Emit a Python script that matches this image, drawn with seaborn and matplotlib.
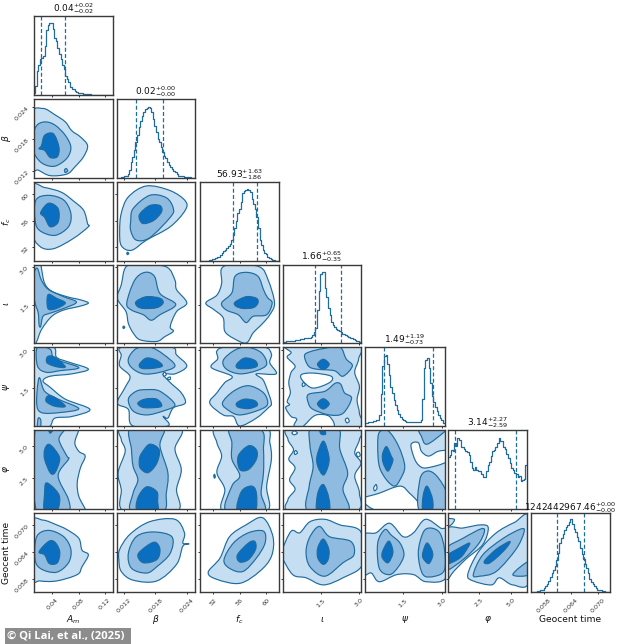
import numpy as np
import matplotlib
matplotlib.use("Agg")
import matplotlib.pyplot as plt
from matplotlib.path import Path
from matplotlib.patches import PathPatch
import seaborn as sns

NAMES = [r"$A_m$", r"$\beta$", r"$f_c$", r"$\iota$", r"$\psi$", r"$\varphi$", "Geocent time"]
RANGES = [(0.012, 0.132), (0.0106, 0.0256), (50.0, 61.8), (0.0, 3.08), (0.03, 3.11), (0.0, 6.28), (0.0551, 0.0727)]
TICKS = [[0.04, 0.08, 0.12], [0.012, 0.018, 0.024], [52, 56, 60], [1.5, 3.0], [1.5, 3.0], [2.5, 5.0], [0.058, 0.064, 0.070]]
TICKLABELS = [["0.04", "0.08", "0.12"], ["0.012", "0.018", "0.024"], ["52", "56", "60"], ["1.5", "3.0"], ["1.5", "3.0"], ["2.5", "5.0"], ["0.058", "0.064", "0.070"]]
TITLES = [r"$0.04_{-0.02}^{+0.02}$", r"$0.02_{-0.00}^{+0.00}$", r"$56.93_{-1.86}^{+1.63}$", r"$1.66_{-0.35}^{+0.65}$",
          r"$1.49_{-0.73}^{+1.19}$", r"$3.14_{-2.59}^{+2.27}$", r"$1242442967.46_{-0.00}^{+0.00}$"]

# quantile positions and histogram heights, both in % of each panel
QUANTILES = [(9, 39), (25, 59), (42.6, 73.4), (41.5, 74), (23.7, 85), (8.5, 86), (33.5, 66.5)]
HIST_AM = [2,12,30,38,46,47,50,62,82,88,91,91,83,72,68,60,52,45,38,33,24,20,16,10,8,7,5,4,3,2,2,1,1,1,1,1,0.5,0.5,0.5,0.5,0.5,0.5,0,0,0,0,0,0,0,0]
HIST_BETA = [0,0,0,1,1,2,3,5,10,20,27,36,45,55,65,72,78,83,87,88,90,89,84,75,66,58,50,45,39,33,28,25,20,17,14,11,9,7,5,3,3,2,2,1,1,1,1,0,0,0]
HIST_FC = [0,0,0,0,0,0,1,1,2,2,3,4,5,7,9,12,14,16,19,21,26,33,42,50,60,66,75,86,89,90,91,90,87,78,72,66,56,42,26,20,14,10,8,5,3,2,1,1,0,0]
HIST_IOTA = [1,1,2,2,3,3,3,3,4,4,4,5,5,5,6,6,7,7,8,10,14,19,42,66,88,91,91,70,58,44,36,27,23,21,18,16,15,14,12,11,10,9,8,7,6,5,4,3,2,1]
HIST_PSI = [4,4,5,5,5,6,6,7,8,14,40,76,88,90,78,65,50,42,33,26,20,15,12,9,8,6,5,5,5,5,5,5,5,5,5,8,34,74,84,86,74,55,38,30,24,19,14,10,7,4]
HIST_PHI = [66,68,75,74,83,80,90,87,78,78,76,74,72,68,60,52,50,53,50,48,48,44,41,40,48,56,60,67,74,75,78,84,90,86,86,78,76,70,64,58,52,50,46,44,40,42,35,37,38,56]
HIST_TIME = [0,0,0,0,1,1,2,3,5,7,10,14,19,24,28,33,40,50,62,68,73,79,82,85,89,92,86,80,76,70,64,56,48,42,35,30,24,17,13,10,7,5,3,2,2,1,1,0,0,0]
HISTS = [HIST_AM, HIST_BETA, HIST_FC, HIST_IOTA, HIST_PSI, HIST_PHI, HIST_TIME]

# contour outlines: x, y pairs in % of each parameter's plotted range
BETA_AM = dict(outer=[[-3,80,12,88,27,80,40,71,48,60,59,52,68,41,63,27,52,14,42,5,21,3,6,10,-3,14]],
               mid=[[3,65,14,71,27,67,40,54,47,39,42,25,27,15,12,18,2,29,-2,44], [39,10,41,12,43,9,40,7]],
               inner=[[14,54,25,56,32,39,30,27,21,26,14,35,7,37,10,41]])
FC_AM = dict(outer=[[-2,94,14,93,35,87,50,76,63,64,68,47,69,43,50,28,25,15,8,18,-2,38]],
             mid=[[3,77,19,83,38,77,47,60,44,43,27,32,8,38,2,51]],
             inner=[[19,73,31,66,31,49,21,43,14,55,9,61]])
FC_BETA = dict(outer=[[6,60,15,81,38,95,68,89,87,76,87,64,68,43,38,26,19,13,6,19,4,38]],
               mid=[[18,50,21,66,42,83,63,80,72,66,68,55,42,29,25,26,18,38]],
               inner=[[30,60,42,70,55,70,57,62,47,51,34,47,29,53], [13,9,14,10.5,15.5,9,14,7.5]])
IOTA_AM = dict(outer=[[10,95,14,76,23,66,42,59,59,55,69,51,59,47,38,42,23,34,10,17,3,0,-5,-5,-5,105,8,105]],
               mid=[[5,95,10,80,19,68,38,59,54,52,38,44,21,38,12,34,9,21,7,23,6,38,2,51,-1,72,1,90]],
               inner=[[19,62,29,57,40,51,29,44,19,43,17,53]])
IOTA_BETA = dict(outer=[[12,97,30,100,63,97,74,80,76,68,89,51,76,40,68,21,72,15,61,8,51,2,30,4,21,13,15,25,12,40,1,57,6,74]],
                 mid=[[13,51,23,80,36,90,48,85,55,63,75,49,55,36,44,29,34,36,19,42]],
                 inner=[[25,53,38,59,55,57,59,51,51,45,34,44,26,47], [8,20,9,21.5,10.5,20,9,18.5]])
IOTA_FC = dict(outer=[[28,95,43,100,76,97,87,80,95,51,89,36,80,25,68,13,59,0,43,6,32,15,30,32,19,42,8,51,22,61,28,76]],
               mid=[[28,51,41,64,45,85,59,90,74,85,81,68,86,58,92,51,85,36,68,34,59,26,49,36,34,42]],
               inner=[[45,52,59,59,72,57,74,51,68,45,55,44,46,47]])
PSI_AM = dict(outer=[[25,100,29,87,44,81,69,72,48,66,21,63,12,57,21,49,40,34,71,21,48,12,27,10,21,0,10,-3,-5,-3,-5,103]],
              mid=[[5,100,21,97,27,85,57,74,33,70,16,68,5,76], [7,61,14,44,31,34,57,22,33,17,10,17,4,29], [6,10,9,8,9,0,5,0]],
              inner=[[18,88,27,87,40,75,29,75,17,80], [18,38,27,36,40,25,27,25,16,31]])
PSI_BETA = dict(outer=[[8,100,68,100,76,90,89,76,74,66,59,66,68,55,82,42,87,29,72,23,65,10,59,12,65,0,21,0,15,21,1,29,11,49,17,63,4,76,6,89]],
                holes=[[59,66,61,68,63,65,60,63], [65,61,68,62,68,59,65,59]],
                mid=[[15,85,25,98,42,100,59,91,74,76,55,68,34,66,19,74], [15,34,25,44,38,46,55,44,74,27,59,19,38,14,21,19]],
                inner=[[29,78,38,86,51,83,58,76,46,73,32,73], [27,29,36,34,51,34,57,25,42,23,32,24]])
PSI_FC = dict(outer=[[22,95,34,100,81,100,91,91,89,80,97,66,72,66,80,59,85,48,91,29,87,23,72,10,51,0,43,12,30,14,13,29,22,42,32,55,41,63,15,74,23,85]],
              mid=[[30,83,43,95,59,100,78,93,85,78,72,70,51,66,34,72], [29,29,43,44,62,51,81,42,86,27,72,19,51,14,38,19]],
              inner=[[47,78,57,86,70,83,73,76,64,73,49,73], [47,29,57,34,70,32,73,26,62,22,49,24]])
PSI_IOTA = dict(outer=[[7,103,11,93,6,87,16,76,11,68,8,55,10,42,6,31,9,27,4,23,11,12,18,9,21,-3,97,-3,98,16,95,33,98,50,92,68,97,85,94,103]],
                holes=[[24,65,39,67,62,63,60,55,39,48,26,57], [28,-3,31,4,43,14,60,12,64,-3], [25,53,27,55,29,52,26,50], [80,8,83,10,85,6,82,4]],
                mid=[[28,89,35,94,52,98,73,100,81,85,89,76,77,63,66,70,43,72,33,76], [33,40,54,44,67,54,74,53,79,42,88,35,77,16,60,14,39,21,33,29]],
                inner=[[44.5,78,52,84.5,59.5,78,52,71.5], [44.5,28,52,34.5,59.5,28,52,21.5]])
PHI_AM = dict(outer=[[57,100,52,84,57,73,65,67,59,52,55,33,57,16,65,0,65,-5,1,-5,1,105,57,105]],
              mid=[[38,103,32,88,42,67,44,63,31,42,44,12,42,-3,4,-3,3,103]],
              inner=[[19,103,21,96,26,103], [19,82,27,75,33,63,27,46,21,46,14,63,14,75], [16,33,27,25,33,14,29,-3,14,-3,14,20]])
PHI_BETA = dict(outer=[[9,103,80,103,74,76,82,50,76,25,76,-3,10,-3,6,25,2,46,11,73,6,88]],
                mid=[[18,103,59,103,55,80,65,46,63,20,59,-3,19,-3,21,20,27,37,21,54,19,75]],
                inner=[[32,71,42,82,54,75,51,58,40,46,30,52,29,63], [27,14,38,28,51,22,52,10,51,-3,27,-3]])
PHI_FC = dict(outer=[[22,103,83,103,89,84,91,63,85,29,85,-3,30,-3,32,25,22,46,28,67,22,84]],
              mid=[[39,103,78,100,81,75,81,46,78,20,81,-3,34,-3,41,29,51,42,41,63,41,84]],
              inner=[[49,67,62,80,72,75,72,63,62,50,51,50], [53,22,66,29,72,20,70,-3,48,-3], [18,42,19,44,20,41,19,39]])
PHI_IOTA = dict(outer=[[11,103,7,88,14,75,8,63,16,52,9,37,16,25,7,12,11,-3,92,-3,98,20,92,42,100,58,92,71,98,88,96,103]],
                holes=[[12,96,15,99,19,96,15,94], [15,72,17,74,19,71,16,69], [94,70,97,72,99,68,96,66]],
                mid=[[37,103,71,103,73,76,83,46,77,25,83,-3,33,-3,34,29,39,54,35,80]],
                inner=[[47,103,49,95,55,95,52,103], [52,86,59,67,58,54,52,43,45,54,44,67], [52,31,59,14,59,-3,44,-3,45,20]])
PHI_PSI = dict(outer=[[-5,-5,-5,105,105,105,105,-5]],
               holes=[[58,82,67,84,71,73,80,67,92,73,103,73,103,60,77,52,67,56,61,67], [-3,12,18,20,44,29,56,20,67,8,67,-3,18,-3], [11,27,14,31,15,26,12,23]],
               mid=[[18,97,29,99,42,80,50,54,44,37,37,29,27,37,18,54,16,80], [69,103,103,103,99,97,78,82,71,92], [69,37,78,48,90,42,103,20,103,-3,69,-3]],
               inner=[[27,79,33,67,35,61,29,48,23,58,22,69], [78,29,85,12,84,-3,73,-3,73,16]])
TIME_AM = dict(outer=[[-3,87,12,91,29,85,42,79,57,68,61,53,69,47,61,32,55,22,29,14,8,14,-3,18]],
               mid=[[4,70,19,78,38,70,47,54,44,37,29,25,10,29,2,41]],
               inner=[[19,64,27,63,33,51,30,37,20,36,14,47,7,51]])
TIME_BETA = dict(outer=[[4,54,17,73,42,89,74,92,86,75,84,62,92,61,84,58,76,35,51,14,21,15,6,26,3,41]],
                 mid=[[15,49,25,70,46,76,70,70,68,49,51,32,38,24,19,30]],
                 inner=[[27,47,38,58,49,63,55,54,51,41,34,37]])
TIME_FC = dict(outer=[[11,25,26,43,38,70,59,85,80,94,93,70,91,45,76,26,51,11,22,16]],
               mid=[[31,41,43,62,62,75,81,77,83,62,72,43,55,26,38,30]],
               inner=[[48,47,62,62,70,64,71,54,62,41,51,38]])
TIME_IOTA = dict(outer=[[-1,52,11,77,22,75,35,89,54,92,73,85,100,76,102,35,77,18,52,9,30,18,13,22,-1,45]],
                 mid=[[30,51,35,70,47,83,60,70,87,64,91,47,77,37,54,20,35,32]],
                 inner=[[45,56,52,67,59,54,58,41,52,35,45,43]])
TIME_PSI = dict(outer=[[-3,70,14,75,31,87,48,70,61,75,76,92,95,81,103,75,103,20,77,13,61,22,40,22,18,13,8,24,-3,24]],
                mid=[[16,62,25,79,33,72,44,62,49,47,42,32,31,22,18,30], [67,49,73,75,82,81,94,75,100,54,100,28,88,20,73,22]],
                inner=[[22,51,29,64,33,60,35,49,29,37,22,43], [73,51,78,62,84,53,85,45,80,36,73,43]])
TIME_PHI = dict(outer=[[-3,77,19,81,42,85,51,81,44,60,23,42,8,27,-3,18], [25,22,38,50,60,74,84,88,103,94,103,14,82,9,65,18,55,9,32,14], [-3,92,8,92,4,85,-3,83]],
                mid=[[-3,54,19,68,42,80,46,76,38,60,19,41,-3,28], [32,22,44,47,70,68,93,80,96,75,86,54,61,26,40,20], [82,22,103,39,103,22]],
                inner=[[-3,45,15,56,27,62,25,56,15,43,-3,35], [46,39,61,54,78,64,74,56,61,43,51,36]])
CONTOURS = {(1, 0): BETA_AM, (2, 0): FC_AM, (2, 1): FC_BETA, (3, 0): IOTA_AM, (3, 1): IOTA_BETA, (3, 2): IOTA_FC,
            (4, 0): PSI_AM, (4, 1): PSI_BETA, (4, 2): PSI_FC, (4, 3): PSI_IOTA, (5, 0): PHI_AM, (5, 1): PHI_BETA,
            (5, 2): PHI_FC, (5, 3): PHI_IOTA, (5, 4): PHI_PSI, (6, 0): TIME_AM, (6, 1): TIME_BETA, (6, 2): TIME_FC,
            (6, 3): TIME_IOTA, (6, 4): TIME_PSI, (6, 5): TIME_PHI}

COL_EDGES = [(33.5, 113), (116.5, 195.5), (199.5, 278.5), (282.5, 361), (365, 444.5), (448, 527), (531, 610)]
ROW_EDGES = [(16, 95), (99, 178), (182, 260.5), (264.5, 343), (347, 426), (430, 509), (513, 592)]
W, H = 634, 644
LINE = "#1f6c9f"
FILLS = dict(outer="#c6def2", holes="#ffffff", mid="#90bbe0", inner="#0a6ec1")

sns.set_theme(style="white")
plt.rcParams["font.family"] = ["DejaVu Sans"]
plt.rcParams["mathtext.fontset"] = "dejavusans"


def scale(pct, rng):
    lo, hi = rng
    return lo + np.asarray(pct, dtype=float) / 100.0 * (hi - lo)


def outline(flat, xr, yr):
    """Closed smooth path through the listed contour vertices."""
    p = np.column_stack([scale(flat[0::2], xr), scale(flat[1::2], yr)])
    n = len(p)
    verts, codes = [p[0]], [Path.MOVETO]
    for i in range(n):
        p0, p1, p2, p3 = p[i - 1], p[i], p[(i + 1) % n], p[(i + 2) % n]
        verts += [p1 + (p2 - p0) / 6.0, p2 - (p3 - p1) / 6.0, p2]
        codes += [Path.CURVE4] * 3
    return Path(verts, codes)


fig = plt.figure(figsize=(W / 100, H / 100), dpi=100, facecolor="white")

for r, (top, bottom) in enumerate(ROW_EDGES):
    for c, (left, right) in enumerate(COL_EDGES):
        if c > r:
            continue
        ax = fig.add_axes([left / W, 1 - bottom / H, (right - left) / W, (bottom - top) / H])
        ax.set_facecolor("white")
        if r == c:
            lo, hi = RANGES[c]
            edges = np.linspace(lo, hi, len(HISTS[c]) + 1)
            centers = 0.5 * (edges[:-1] + edges[1:])
            sns.histplot(x=centers, weights=HISTS[c], bins=len(HISTS[c]), binrange=(lo, hi), element="step",
                         fill=False, color=LINE, linewidth=0.9, ax=ax, legend=False)
            for q in QUANTILES[c]:
                ax.axvline(scale(q, RANGES[c]), color=LINE, lw=0.9, ls=(0, (3.2, 1.8)))
            ax.set_ylim(0, 100)
            ax.set_yticks([])
            ax.set_title(TITLES[c], fontsize=6.5, pad=1.5, color="#111111")
        else:
            ax.set_ylim(RANGES[r])
            spec = CONTOURS[(r, c)]
            for level in ("outer", "holes", "mid", "inner"):
                for flat in spec.get(level, []):
                    ax.add_patch(PathPatch(outline(flat, RANGES[c], RANGES[r]), facecolor=FILLS[level],
                                           edgecolor=LINE, lw=0.85))
            ax.set_yticks(TICKS[r])
        ax.set_xlim(RANGES[c])
        ax.set_xticks(TICKS[c])
        ax.set_xlabel("")
        ax.set_ylabel("")
        ax.tick_params(axis="both", which="major", length=1.5, width=0.7, color="#333333",
                       labelsize=4.6, labelcolor="#333333", pad=2.5,
                       bottom=True, left=(r != c))
        if r == 6:
            ax.set_xticklabels(TICKLABELS[c], rotation=45, ha="center", va="top")
            ax.set_xlabel(NAMES[c], fontsize=6.6, color="#111111")
            ax.xaxis.set_label_coords(0.5, -0.35)
            ax.xaxis.label.set_va("center")
        else:
            ax.set_xticklabels([])
        if c == 0 and r > 0:
            ax.set_yticklabels(TICKLABELS[r], rotation=45, ha="right", va="center", rotation_mode="anchor")
            ax.set_ylabel(NAMES[r], fontsize=6.6, color="#111111")
            ax.yaxis.set_label_coords(-0.34, 0.5)
            ax.yaxis.label.set_va("center")
        elif r != c:
            ax.set_yticklabels([])
        for s in ax.spines.values():
            s.set_visible(True)
            s.set_color("#3a3a3a")
            s.set_linewidth(1.0)

fig.patches.append(plt.Rectangle((5 / W, 0), 126 / W, 16 / H, transform=fig.transFigure, facecolor="#8c8c8c", edgecolor="none"))
fig.text(7 / W, 8 / H, "\u00a9 Qi Lai, et al., (2025)", fontsize=8.1, fontweight="bold", family="Open Sans",
         color="white", va="center", ha="left")
fig.savefig("out.png", dpi=100, facecolor="white")
